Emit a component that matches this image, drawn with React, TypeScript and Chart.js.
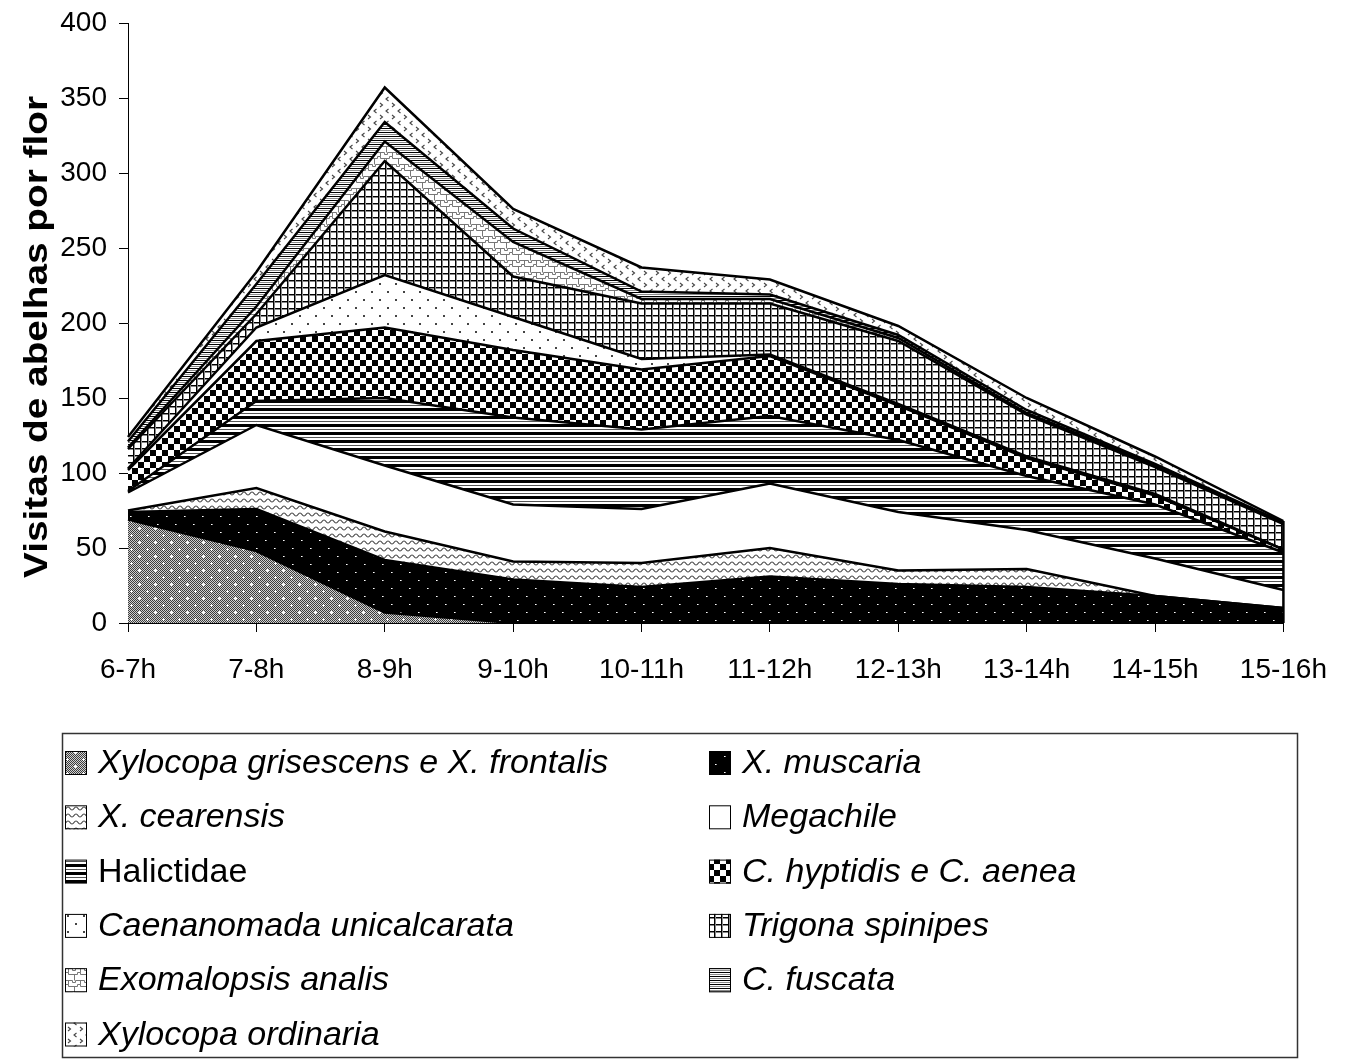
import React, { useEffect, useRef } from 'react';
import { Chart, registerables } from 'chart.js';

Chart.register(...registerables);

// Time slots along the horizontal axis
const hours = ['6-7h', '7-8h', '8-9h', '9-10h', '10-11h', '11-12h', '12-13h', '13-14h', '14-15h', '15-16h'];

// Vertical axis range
const yMin = 0;
const yMax = 400;
const yStep = 50;

const yTitle = 'Visitas de abelhas por flor';

// Visits per flower, one list per bee taxon (stacked bottom to top)
const xylocopaGrisescens = [69, 48, 7, 0, 0, 0, 0, 0, 0, 0];
const xMuscaria = [5, 28, 35, 29, 24, 31, 26, 24, 18, 10];
const xCearensis = [1, 14, 19, 12, 16, 19, 9, 12, 0, 0];
const megachile = [12, 42, 44, 38, 36, 43, 39, 26, 25, 12];
const halictidae = [1, 16, 45, 58, 53, 45, 48, 36, 36, 25];
const cHyptidis = [14, 40, 47, 45, 40, 40, 23, 12, 6, 2];
const caenanomada = [1, 9, 35, 22, 7, 1, 1, 1, 1, 0];
const trigona = [13, 9, 76, 27, 37, 34, 42, 28, 18, 17];
const exomalopsis = [1, 5, 13, 23, 3, 3, 2, 1, 1, 0];
const cFuscata = [4, 15, 13, 9, 5, 3, 2, 2, 1, 1];
const xOrdinaria = [3, 8, 23, 13, 16, 10, 6, 8, 5, 1];

const seriesNames = [
  'Xylocopa grisescens e X. frontalis',
  'X. muscaria',
  'X. cearensis',
  'Megachile',
  'Halictidae',
  'C. hyptidis e C. aenea',
  'Caenanomada unicalcarata',
  'Trigona spinipes',
  'Exomalopsis analis',
  'C. fuscata',
  'Xylocopa ordinaria',
];
const seriesItalic = [true, true, true, true, false, true, true, true, true, true, true];
const seriesValues = [
  xylocopaGrisescens, xMuscaria, xCearensis, megachile, halictidae,
  cHyptidis, caenanomada, trigona, exomalopsis, cFuscata, xOrdinaria,
];

const FONT = '"Liberation Sans", Arial, sans-serif';

type TileDraw = (g: CanvasRenderingContext2D, w: number, h: number) => void;

function tile(ctx: CanvasRenderingContext2D, w: number, h: number, draw: TileDraw): CanvasPattern {
  const c = document.createElement('canvas');
  c.width = w;
  c.height = h;
  const g = c.getContext('2d')!;
  g.fillStyle = '#fff';
  g.fillRect(0, 0, w, h);
  draw(g, w, h);
  return ctx.createPattern(c, 'repeat')!;
}

function buildPatterns(ctx: CanvasRenderingContext2D): CanvasPattern[] {
  const px = (g: CanvasRenderingContext2D, x: number, y: number, w: number, h: number, c: string) => {
    g.fillStyle = c;
    g.fillRect(x, y, w, h);
  };
  return [
    // fine grey dither with white crosses
    tile(ctx, 16, 14, (g, w, h) => {
      for (let y = 0; y < h; y++) for (let x = 0; x < w; x++) {
        px(g, x, y, 1, 1, (x + y) % 2 === 0 ? '#3c3c3c' : '#d0d0d0');
      }
      for (const [cx, cy] of [[3, 3], [11, 10]]) {
        px(g, cx - 1, cy, 3, 1, '#fff');
        px(g, cx, cy - 1, 1, 3, '#fff');
      }
    }),
    // black with white dots
    tile(ctx, 18, 16, (g, w, h) => {
      px(g, 0, 0, w, h, '#000');
      px(g, 4, 4, 1, 1, '#fff');
      px(g, 5, 4, 1, 1, '#999');
      px(g, 13, 12, 1, 1, '#fff');
      px(g, 14, 12, 1, 1, '#999');
    }),
    // waves
    tile(ctx, 8, 7, (g) => {
      g.strokeStyle = '#444';
      g.lineWidth = 1.2;
      g.beginPath();
      g.moveTo(0, 5);
      g.bezierCurveTo(2, 5, 2, 2, 4, 2);
      g.bezierCurveTo(6, 2, 6, 5, 8, 5);
      g.stroke();
    }),
    // plain white
    tile(ctx, 4, 4, () => {}),
    // wide horizontal stripes
    tile(ctx, 4, 8, (g, w) => {
      px(g, 0, 0, w, 3, '#000');
      px(g, 0, 5, w, 1, '#555');
    }),
    // large checkerboard
    tile(ctx, 12, 12, (g) => {
      px(g, 0, 0, 6, 6, '#000');
      px(g, 6, 6, 6, 6, '#000');
    }),
    // sparse dots
    tile(ctx, 16, 16, (g) => {
      px(g, 3, 3, 2, 2, '#444');
      px(g, 11, 11, 2, 2, '#444');
    }),
    // grid
    tile(ctx, 7, 7, (g, w, h) => {
      px(g, 0, 0, w, 1, '#000');
      px(g, 0, 1, w, 1, '#888');
      px(g, 0, 0, 1, h, '#000');
      px(g, 1, 0, 1, h, '#888');
    }),
    // jigsaw lines
    tile(ctx, 12, 12, (g) => {
      g.strokeStyle = '#777';
      g.lineWidth = 1;
      g.beginPath();
      g.moveTo(0, 2.5); g.lineTo(5.5, 2.5); g.lineTo(5.5, 0.5); g.lineTo(8.5, 0.5); g.lineTo(8.5, 2.5); g.lineTo(12, 2.5);
      g.moveTo(2.5, 2.5); g.lineTo(2.5, 8.5);
      g.moveTo(0, 8.5); g.lineTo(0.5, 8.5); g.lineTo(0.5, 10.5); g.lineTo(3.5, 10.5); g.lineTo(3.5, 8.5); g.lineTo(12, 8.5);
      g.moveTo(8.5, 8.5); g.lineTo(8.5, 12);
      g.moveTo(8.5, 0); g.lineTo(8.5, 0.5);
      g.stroke();
    }),
    // narrow horizontal stripes
    tile(ctx, 4, 4, (g, w) => {
      px(g, 0, 0, w, 1, '#000');
      px(g, 0, 2, w, 1, '#888');
    }),
    // little chevrons
    tile(ctx, 12, 12, (g) => {
      g.strokeStyle = '#444';
      g.lineWidth = 1.1;
      g.beginPath();
      g.moveTo(4.5, 1); g.lineTo(2, 3); g.lineTo(4.5, 5);
      g.moveTo(8, 7); g.lineTo(10.5, 9); g.lineTo(8, 11);
      g.stroke();
    }),
  ];
}

export default function App() {
  const canvasRef = useRef<HTMLCanvasElement | null>(null);

  useEffect(() => {
    const canvas = canvasRef.current;
    if (!canvas) return;
    const ctx = canvas.getContext('2d')!;
    const patterns = buildPatterns(ctx);

    const decor = {
      id: 'decor',
      afterDatasetsDraw(chart: any) {
        // closing edge of the stacked areas on the right
        const c = chart.ctx;
        const xs = chart.scales.x;
        const ys = chart.scales.y;
        const last = hours.length - 1;
        const total = seriesValues.reduce((s, v) => s + v[last], 0);
        c.save();
        c.strokeStyle = '#000';
        c.lineWidth = 2.5;
        c.beginPath();
        c.moveTo(xs.getPixelForValue(last), ys.getPixelForValue(0));
        c.lineTo(xs.getPixelForValue(last), ys.getPixelForValue(total));
        c.stroke();
        c.restore();
      },
      afterDraw(chart: any) {
        const c = chart.ctx;
        // rotated axis title
        c.save();
        c.fillStyle = '#000';
        c.font = `bold 34px ${FONT}`;
        const w = c.measureText(yTitle).width;
        c.translate(47, 337);
        c.rotate(-Math.PI / 2);
        c.scale(482 / w, 1);
        c.textAlign = 'center';
        c.textBaseline = 'alphabetic';
        c.fillText(yTitle, 0, 0);
        c.restore();

        // legend box
        c.save();
        c.strokeStyle = '#333';
        c.lineWidth = 1.5;
        c.strokeRect(62.5, 733.5, 1235, 324);
        const colMarker = [65, 709];
        const rowStep = 54.3;
        seriesNames.forEach((name, i) => {
          const col = i % 2;
          const row = Math.floor(i / 2);
          const top = 751 + rowStep * row;
          const mx = colMarker[col];
          c.fillStyle = patterns[i];
          c.fillRect(mx, top, 22, 24);
          c.strokeStyle = '#000';
          c.lineWidth = 1;
          c.strokeRect(mx + 0.5, top + 0.5, 21, 23);
          c.fillStyle = '#000';
          c.font = `${seriesItalic[i] ? 'italic ' : ''}34px ${FONT}`;
          c.textAlign = 'left';
          c.textBaseline = 'alphabetic';
          c.fillText(name, mx + 33, top + 22);
        });
        c.restore();
      },
    };

    const chart = new Chart(canvas, {
      type: 'line',
      data: {
        labels: hours,
        datasets: seriesValues.map((values, i) => ({
          label: seriesNames[i],
          data: values,
          fill: i === 0 ? 'origin' : '-1',
          backgroundColor: patterns[i],
          borderColor: '#000',
          borderWidth: 2.5,
          pointRadius: 0,
          pointHoverRadius: 0,
          tension: 0,
        })),
      },
      options: {
        responsive: false,
        animation: false,
        devicePixelRatio: 1,
        layout: { padding: { left: 0, top: 23, right: 64, bottom: 0 } },
        plugins: {
          legend: { display: false },
          tooltip: { enabled: false },
        },
        scales: {
          x: {
            offset: false,
            grid: { drawOnChartArea: false, tickLength: 9, color: '#000', offset: false },
            border: { color: '#000', width: 1 },
            ticks: { color: '#000', font: { family: FONT, size: 28 }, padding: 21, maxRotation: 0, autoSkip: false },
            afterFit(scale: any) {
              scale.height = 436;
            },
          },
          y: {
            stacked: true,
            min: yMin,
            max: yMax,
            grid: { drawOnChartArea: false, tickLength: 9, color: '#000' },
            border: { color: '#000', width: 1 },
            ticks: { stepSize: yStep, color: '#000', font: { family: FONT, size: 28 }, padding: 12 },
            afterFit(scale: any) {
              scale.width = 128;
              scale.paddingTop = 0;
              scale.paddingBottom = 0;
            },
          },
        },
      },
      plugins: [decor],
    } as any);

    return () => chart.destroy();
  }, []);

  return (
    <div style={{ position: 'fixed', left: 0, top: 0, width: 1348, height: 1059, background: '#fff' }}>
      <canvas ref={canvasRef} width={1348} height={1059} style={{ width: 1348, height: 1059, display: 'block' }} />
    </div>
  );
}
